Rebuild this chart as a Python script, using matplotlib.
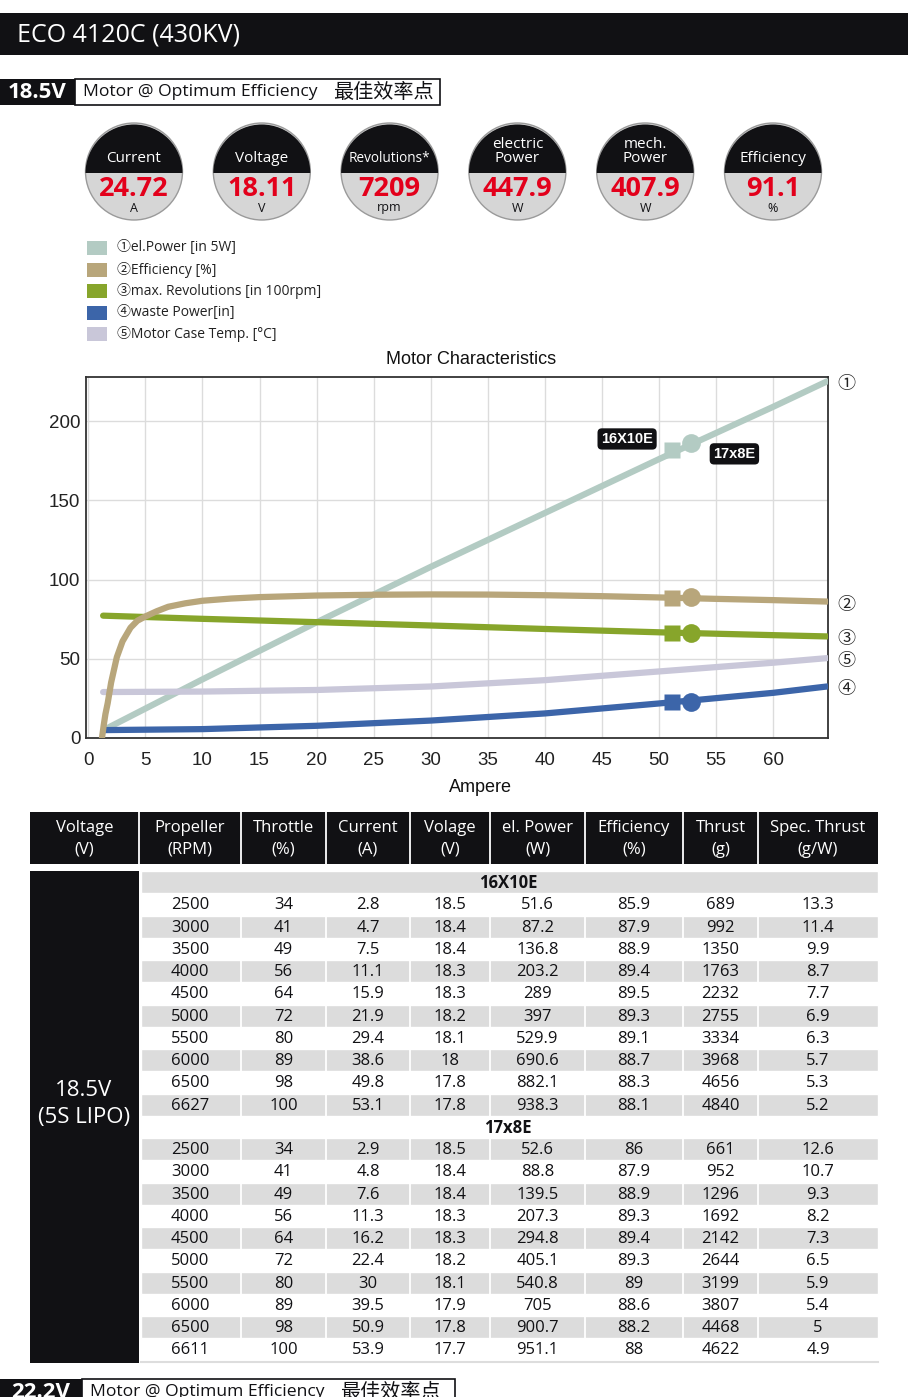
import matplotlib
matplotlib.use("Agg")
from matplotlib import pyplot as plt
from matplotlib.patches import Rectangle, Circle, Wedge
from matplotlib.transforms import offset_copy
import numpy as np

# ---- data ----
title = "ECO 4120C (430KV)"
gauge_labels = ["Current", "Voltage", "Revolutions*", "electric\nPower", "mech.\nPower", "Efficiency"]
gauge_values = ["24.72", "18.11", "7209", "447.9", "407.9", "91.1"]
gauge_units = ["A", "V", "rpm", "W", "W", "%"]

legend_labels = ["①el.Power [in 5W]", "②Efficiency [%]", "③max. Revolutions [in 100rpm]",
                 "④waste Power[in]", "⑤Motor Case Temp. [°C]"]
colors = ["#b3cbc3", "#b8a67b", "#87a52b", "#3c65a9", "#c9c7d9"]

# curves (x = Ampere)
elp_x = [1.6, 10, 20, 30, 40, 50, 60, 64.7]
elp_y = [6, 37, 73, 108, 142, 176, 209, 225]
eff_x = [1.2, 1.35, 1.5, 1.7, 2.0, 2.5, 3.0, 3.7, 4.3, 5, 6, 7, 8.5, 10, 12.5, 15, 20, 25, 30, 35, 40, 45, 50, 55, 60, 64.7]
eff_y = [0, 8, 15, 22, 35, 51, 61, 69.6, 74, 76.7, 80, 82.8, 85, 86.6, 88, 88.9, 89.9, 90.4, 90.6, 90.5, 90.1, 89.5, 88.7, 87.8, 87.0, 86.1]
rev_x = [1.3, 10, 20, 30, 40, 50, 60, 64.7]
rev_y = [77.2, 75.2, 73.1, 71.0, 68.8, 66.7, 64.9, 64.1]
waste_x = [1.5, 10, 20, 30, 40, 50, 60, 64.7]
waste_y = [5.0, 5.6, 7.7, 11.0, 15.5, 21.8, 28.5, 32.5]
temp_x = [1.3, 10, 20, 30, 40, 50, 60, 64.7]
temp_y = [29.0, 29.3, 30.3, 32.5, 36.5, 42.0, 47.5, 50.4]

# optimum markers (square = 16X10E, circle = 17x8E)
mark_x = [51.1, 52.8]
mark_elp = [182, 186]
mark_eff = [88.5, 89.0]
mark_rev = [66.4, 66.4]
mark_waste = [22.9, 22.9]

end_labels = ["①", "②", "③", "⑤", "④"]
end_values = [225, 86.1, 64.1, 50.4, 32.5]

x_ticks = [0, 5, 10, 15, 20, 25, 30, 35, 40, 45, 50, 55, 60]
y_ticks = [0, 50, 100, 150, 200]

headers = [("Voltage", "(V)"), ("Propeller", "(RPM)"), ("Throttle", "(%)"), ("Current", "(A)"),
           ("Volage", "(V)"), ("el. Power", "(W)"), ("Efficiency", "(%)"), ("Thrust", "(g)"),
           ("Spec. Thrust", "(g/W)")]

p1_name = "16X10E"
p1_rpm = [2500, 3000, 3500, 4000, 4500, 5000, 5500, 6000, 6500, 6627]
p1_thr = [34, 41, 49, 56, 64, 72, 80, 89, 98, 100]
p1_cur = [2.8, 4.7, 7.5, 11.1, 15.9, 21.9, 29.4, 38.6, 49.8, 53.1]
p1_vol = [18.5, 18.4, 18.4, 18.3, 18.3, 18.2, 18.1, 18, 17.8, 17.8]
p1_pow = [51.6, 87.2, 136.8, 203.2, 289, 397, 529.9, 690.6, 882.1, 938.3]
p1_eff = [85.9, 87.9, 88.9, 89.4, 89.5, 89.3, 89.1, 88.7, 88.3, 88.1]
p1_thrust = [689, 992, 1350, 1763, 2232, 2755, 3334, 3968, 4656, 4840]
p1_spec = [13.3, 11.4, 9.9, 8.7, 7.7, 6.9, 6.3, 5.7, 5.3, 5.2]

p2_name = "17x8E"
p2_rpm = [2500, 3000, 3500, 4000, 4500, 5000, 5500, 6000, 6500, 6611]
p2_thr = [34, 41, 49, 56, 64, 72, 80, 89, 98, 100]
p2_cur = [2.9, 4.8, 7.6, 11.3, 16.2, 22.4, 30, 39.5, 50.9, 53.9]
p2_vol = [18.5, 18.4, 18.4, 18.3, 18.3, 18.2, 18.1, 17.9, 17.8, 17.7]
p2_pow = [52.6, 88.8, 139.5, 207.3, 294.8, 405.1, 540.8, 705, 900.7, 951.1]
p2_eff = [86, 87.9, 88.9, 89.3, 89.4, 89.3, 89, 88.6, 88.2, 88]
p2_thrust = [661, 952, 1296, 1692, 2142, 2644, 3199, 3807, 4468, 4622]
p2_spec = [12.6, 10.7, 9.3, 8.2, 7.3, 6.5, 5.9, 5.4, 5, 4.9]

FONT = ["Open Sans", "Noto Sans CJK SC", "DejaVu Sans"]
plt.rcParams['font.family'] = FONT
BLACK = "#111114"

fig = plt.figure(figsize=(9.08, 13.97), dpi=100)
ov = fig.add_axes([0, 0, 1, 1])
ov.set_xlim(0, 908)
ov.set_ylim(1397, 0)
ov.axis('off')

# title bar
ov.add_patch(Rectangle((0, 13), 908, 42, fc=BLACK, ec='none'))
ov.text(17, 35, title, color='white', fontsize=18, va='center', ha='left')


def volt_bar(y, volt, w_black, w_total):
    ov.add_patch(Rectangle((0, y), w_black, 26, fc=BLACK, ec='none'))
    ov.add_patch(Rectangle((w_black, y), w_total - w_black, 26, fc='white', ec=BLACK, lw=1.2))
    ov.text(w_black / 2, y + 13.5, volt, color='white', fontsize=16, fontweight='bold', ha='center', va='center')
    ov.text(w_black + 8, y + 13, "Motor @ Optimum Efficiency", color=BLACK, fontsize=12.6, ha='left', va='center')
    ov.text(w_black + 258, y + 13.5, "最佳效率点", color=BLACK, fontsize=14.5, ha='left', va='center')


volt_bar(79, "18.5V", 75, 440)

# gauges
for i, (lab, val, unit) in enumerate(zip(gauge_labels, gauge_values, gauge_units)):
    cx, cy, r = 134 + i * 127.8, 171.5, 48.5
    ov.add_patch(Circle((cx, cy), r, fc='#d6d6d6', ec='#9a9a9a', lw=1))
    ov.add_patch(Wedge((cx, cy + 1.5), r, 180, 360, fc=BLACK, ec='none'))
    parts = lab.split("\n")
    fs = 9.8 if max(len(p) for p in parts) > 10 else 11
    if len(parts) == 2:
        ov.text(cx, 145, parts[0], color='white', fontsize=fs, ha='center', va='center')
        ov.text(cx, 159, parts[1], color='white', fontsize=fs, ha='center', va='center')
    else:
        ov.text(cx, 159, lab, color='white', fontsize=fs, ha='center', va='center')
    ov.text(cx, 189, val, color='#e3001b', fontsize=19.5, fontweight='bold', ha='center', va='center')
    ov.text(cx, 208, unit, color=BLACK, fontsize=9, ha='center', va='center')

# legend
for i, (lab, c) in enumerate(zip(legend_labels, colors)):
    y = 248 + i * 21.5
    ov.add_patch(Rectangle((87, y - 7), 20, 14, fc=c, ec='none'))
    ov.text(117, y, lab, color='#222222', fontsize=10, ha='left', va='center')

# chart
ax = fig.add_axes([86 / 908, 1 - 738 / 1397, 742 / 908, 361 / 1397])
lw = 4.5
ax.plot(elp_x, elp_y, color=colors[0], lw=lw, solid_capstyle='round', zorder=3)
ax.plot(temp_x, temp_y, color=colors[4], lw=lw, solid_capstyle='round', zorder=3)
ax.plot(waste_x, waste_y, color=colors[3], lw=lw, solid_capstyle='round', zorder=3)
ax.plot(rev_x, rev_y, color=colors[2], lw=lw, solid_capstyle='round', zorder=3)
ax.plot(eff_x, eff_y, color=colors[1], lw=lw, solid_capstyle='round', zorder=3)
for ys, c in [(mark_elp, colors[0]), (mark_eff, colors[1]), (mark_rev, colors[2]), (mark_waste, colors[3])]:
    ax.plot(mark_x[0], ys[0], marker='s', ms=11.5, color=c, mec='none', zorder=4)
    ax.plot(mark_x[1], ys[1], marker='o', ms=13.5, color=c, mec='none', zorder=4)

box = dict(boxstyle='round,pad=0.25,rounding_size=0.3', fc=BLACK, ec='none')
ax.text(47.2, 188.7, p1_name, color='white', fontsize=10.5, fontweight='bold', ha='center', va='center',
        bbox=box, family=["Liberation Sans"], zorder=5)
ax.text(56.6, 179.3, p2_name, color='white', fontsize=10.5, fontweight='bold', ha='center', va='center',
        bbox=box, family=["Liberation Sans"], zorder=5)

lab_tr = offset_copy(ax.transData, fig=fig, x=0, y=-3, units='dots')
for lab, v in zip(end_labels, end_values):
    ax.text(66.4, v, lab, fontsize=13, ha='center', va='center', clip_on=False, transform=lab_tr,
            family=["Noto Sans CJK SC", "DejaVu Sans"], color='#222222')

ax.set_xlim(-0.2, 64.8)
ax.set_ylim(0, 227.8)
ax.set_xticks(x_ticks)
ax.set_yticks(y_ticks)
ax.grid(True, color='#dcdcdc', lw=1)
ax.set_axisbelow(True)
for s in ax.spines.values():
    s.set_color('#333333')
    s.set_linewidth(1.3)
ax.tick_params(length=0, labelsize=13.5, colors='#222222')
ax.tick_params(axis='x', pad=10)
ax.tick_params(axis='y', pad=4)
for t in ax.get_xticklabels() + ax.get_yticklabels():
    t.set_family("Liberation Sans")
ax.set_title("Motor Characteristics", fontsize=13, family="Liberation Sans", pad=9, color='#111111',
             x=(471 - 86) / 742)
ax.set_xlabel("Ampere", fontsize=13, family="Liberation Sans", color='#111111')
ax.xaxis.set_label_coords((480 - 86) / 742, -0.113)

# table
cols_x = [30, 139, 241, 326, 410, 490, 585, 683, 758, 878]
centers = [(a + b) / 2 for a, b in zip(cols_x[:-1], cols_x[1:])]
ov.add_patch(Rectangle((30, 812), 848, 52, fc=BLACK, ec='none'))
for x in cols_x[1:-1]:
    ov.plot([x, x], [812, 864], color='white', lw=1.3)
for (a, b), cx in zip(headers, centers):
    ov.text(cx, 828, a, color='white', fontsize=12, ha='center', va='center')
    ov.text(cx, 850, b, color='white', fontsize=12, ha='center', va='center')

top, rh = 871, 22.25
ov.add_patch(Rectangle((30, top), 109, 22 * rh + 2, fc=BLACK, ec='none'))
ov.text(84, 1090, "18.5V", color='white', fontsize=16, ha='center', va='center')
ov.text(84, 1117, "(5S LIPO)", color='white', fontsize=16, ha='center', va='center')

rows = []
for name, cols in [(p1_name, [p1_rpm, p1_thr, p1_cur, p1_vol, p1_pow, p1_eff, p1_thrust, p1_spec]),
                   (p2_name, [p2_rpm, p2_thr, p2_cur, p2_vol, p2_pow, p2_eff, p2_thrust, p2_spec])]:
    rows.append(name)
    for k in range(len(cols[0])):
        rows.append([f"{c[k]:g}" for c in cols])

for i, row in enumerate(rows):
    y = top + i * rh
    if i % 2 == 0:
        ov.add_patch(Rectangle((141, y), 737, rh, fc='#dcdcdc', ec='white', lw=1))
        if not isinstance(row, str):
            for x in cols_x[2:-1]:
                ov.plot([x, x], [y, y + rh], color='white', lw=1.3)
    if isinstance(row, str):
        ov.text(508, y + rh / 2 + 1, row, color=BLACK, fontsize=12, fontweight='bold', ha='center', va='center')
    else:
        for cx, v in zip(centers[1:], row):
            ov.text(cx, y + rh / 2 + 1, v, color=BLACK, fontsize=12, ha='center', va='center')
ov.plot([141, 878], [top + 22 * rh + 1, top + 22 * rh + 1], color='#dddddd', lw=1.5)

# next section header (cut at bottom, as in the page it was taken from)
volt_bar(1379, "22.2V", 82, 455)

fig.savefig("out.png", dpi=100)
